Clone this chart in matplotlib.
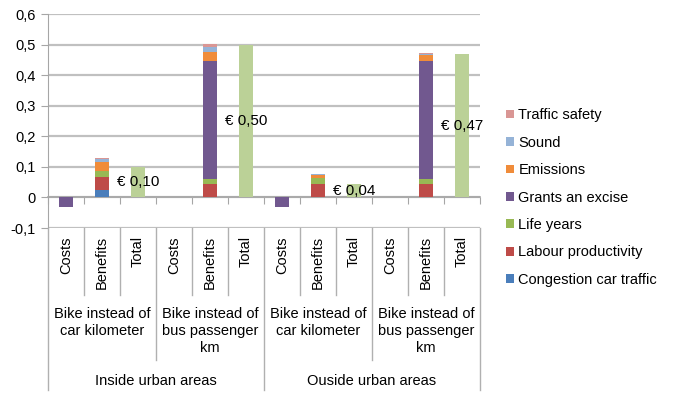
import matplotlib
matplotlib.use("Agg")
import matplotlib.pyplot as plt
import matplotlib.transforms as mtransforms
from matplotlib.lines import Line2D
from matplotlib.patches import Patch
import numpy as np

plt.rcParams['font.family'] = ['Liberation Sans', 'DejaVu Sans']

# ---- data ----
categories = ["Costs", "Benefits", "Total"] * 4
groups = ["Bike instead of\ncar kilometer", "Bike instead of\nbus passenger\nkm",
          "Bike instead of\ncar kilometer", "Bike instead of\nbus passenger\nkm"]
areas = ["Inside urban areas", "Ouside urban areas"]

series_names = ["Congestion car traffic", "Labour productivity", "Life years",
                "Grants an excise", "Emissions", "Sound", "Traffic safety"]
congestion = [0, 0.024, 0, 0, 0, 0, 0, 0, 0, 0, 0, 0]
labour     = [0, 0.043, 0, 0, 0.044, 0, 0, 0.044, 0, 0, 0.044, 0]
life_years = [0, 0.018, 0, 0, 0.016, 0, 0, 0.018, 0, 0, 0.016, 0]
grants     = [-0.03, 0.002, 0, 0, 0.387, 0, -0.03, 0.002, 0, 0, 0.387, 0]
emissions  = [0, 0.028, 0, 0, 0.029, 0, 0, 0.008, 0, 0, 0.019, 0]
sound      = [0, 0.010, 0, 0, 0.015, 0, 0, 0.003, 0, 0, 0.003, 0]
safety     = [0, 0.003, 0, 0, 0.010, 0, 0, 0.002, 0, 0, 0.002, 0]
total      = [0, 0, 0.10, 0, 0, 0.50, 0, 0, 0.043, 0, 0, 0.47]
total_labels = ["€ 0,10", "€ 0,50", "€ 0,04", "€ 0,47"]

yticks = [-0.1, 0, 0.1, 0.2, 0.3, 0.4, 0.5, 0.6]
ytick_labels = ["-0,1", "0", "0,1", "0,2", "0,3", "0,4", "0,5", "0,6"]

colors = ["#4A7EBB", "#BE4B48", "#98B954", "#71588F", "#F08C3A", "#95B3D7", "#D99694"]
total_color = "#BBD197"

# ---- figure ----
W, H = 679, 397
fig = plt.figure(figsize=(W / 100, H / 100), dpi=100)
ax = fig.add_axes([48 / W, 1 - 228 / H, 432 / W, 214 / H])

x = np.arange(len(categories))
bw = 0.4
series = [congestion, labour, life_years, grants, emissions, sound, safety]
pos_base = np.zeros(len(x))
neg_base = np.zeros(len(x))
for vals, c in zip(series, colors):
    v = np.array(vals, dtype=float)
    base = np.where(v >= 0, pos_base, neg_base)
    ax.bar(x, v, bw, bottom=base, color=c, linewidth=0, zorder=3)
    pos_base = pos_base + np.where(v > 0, v, 0)
    neg_base = neg_base + np.where(v < 0, v, 0)
ax.bar(x, total, bw, color=total_color, linewidth=0, zorder=3)

# value labels on total bars
tot_idx = [i for i, c in enumerate(categories) if c == "Total"]
for i, lab in zip(tot_idx, total_labels):
    ax.text(x[i], total[i] / 2, lab, ha="center", va="center", fontsize=11,
            color="#000000", zorder=5)

ax.set_xlim(-0.5, len(x) - 0.5)
ax.set_ylim(-0.1, 0.6)
ax.set_yticks(yticks)
ax.set_yticklabels(ytick_labels, fontsize=10.5)
ax.yaxis.grid(True, color="#C0C0C0", linewidth=1.6, zorder=0)
ax.set_axisbelow(True)
for s in ["top", "right"]:
    ax.spines[s].set_visible(False)
ax.spines["left"].set_color("#A6A6A6")
ax.spines["bottom"].set_position(("data", 0))
ax.spines["bottom"].set_color("#A6A6A6")
ax.spines["bottom"].set_linewidth(1.2)
ax.set_xticks(np.arange(len(x) + 1) - 0.5)
ax.set_xticklabels([])
ax.tick_params(axis="x", direction="out", length=5, color="#A6A6A6")
ax.tick_params(axis="y", direction="out", length=5, color="#A6A6A6", pad=4)

# ---- multi-level category axis ----
trans = mtransforms.blended_transform_factory(ax.transData, fig.transFigure)
fy = lambda p: 1 - p / H
sep_color = "#B0B0B0"
for k in range(len(x) + 1):
    if k % 6 == 0:
        yb = 390
    elif k % 3 == 0:
        yb = 360
    else:
        yb = 295
    fig.add_artist(Line2D([k - 0.5, k - 0.5], [fy(228), fy(yb)], transform=trans,
                          color=sep_color, linewidth=1.0, clip_on=False))
for i, c in enumerate(categories):
    fig.text(x[i], fy(236), c, transform=trans, rotation=90, ha="center", va="top",
             fontsize=10.5)
for g, lab in enumerate(groups):
    fig.text(3 * g + 1, fy(307), lab, transform=trans, ha="center", va="top",
             fontsize=10.5, linespacing=1.25)
for a, lab in enumerate(areas):
    fig.text(6 * a + 2.5, fy(381), lab, transform=trans, ha="center", va="center",
             fontsize=10.5)

# ---- legend ----
handles = [Patch(facecolor=c, edgecolor="none") for c in colors][::-1]
labels = series_names[::-1]
fig.legend(handles, labels, loc="center left", bbox_to_anchor=(506 / W, fy(197.5)),
           frameon=False, fontsize=10.5, handlelength=0.55, handleheight=0.55,
           handletextpad=0.3, labelspacing=0.92, borderpad=0, borderaxespad=0)

fig.savefig("out.png", dpi=100)
